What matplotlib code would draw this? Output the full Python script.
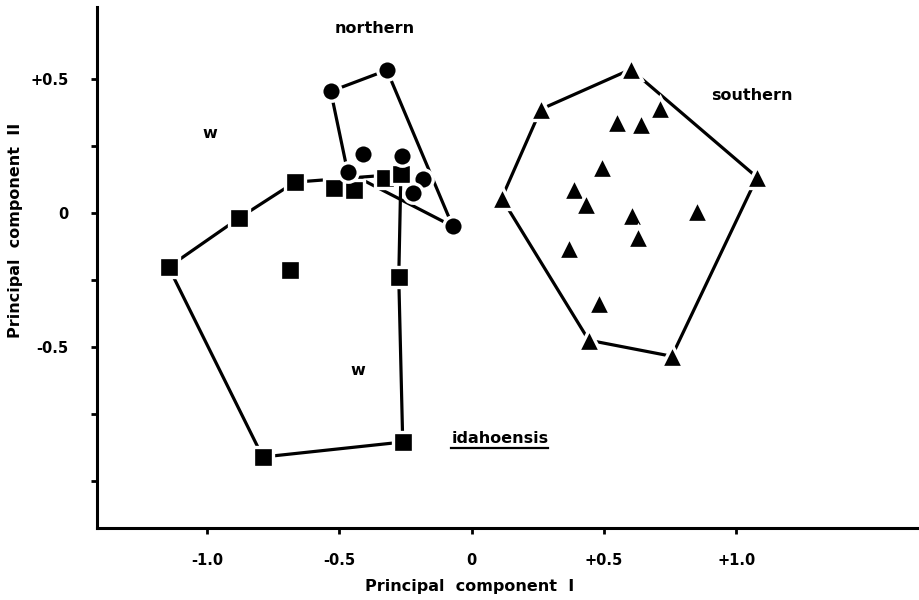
import matplotlib
matplotlib.use("Agg")
import matplotlib.pyplot as plt
from matplotlib.lines import Line2D

plt.rcParams['font.family'] = ['DejaVu Sans']
plt.rcParams['font.weight'] = 'bold'

# principal component scores (PC I, PC II) per population
idaho_x = [-1.146, -0.881, -0.669, -0.522, -0.446, -0.329, -0.268, -0.688, -0.276, -0.261, -0.790]
idaho_y = [-0.201, -0.019, 0.116, 0.093, 0.086, 0.131, 0.146, -0.213, -0.239, -0.854, -0.910]
idaho_hull = [0, 1, 2, 6, 8, 9, 10]

north_x = [-0.533, -0.321, -0.469, -0.412, -0.265, -0.185, -0.223, -0.072]
north_y = [0.455, 0.534, 0.153, 0.220, 0.213, 0.127, 0.075, -0.049]
north_hull = [0, 1, 7, 2]

south_x = [0.601, 0.261, 0.711, 0.548, 0.639, 0.491, 0.386, 0.431, 0.113,
           0.605, 0.851, 0.628, 0.367, 0.480, 0.442, 0.756, 1.078]
south_y = [0.537, 0.388, 0.392, 0.340, 0.332, 0.172, 0.090, 0.034, 0.056,
           -0.007, 0.007, -0.090, -0.131, -0.336, -0.474, -0.534, 0.134]
south_hull = [0, 16, 15, 14, 8, 1]

xticks = [-1.0, -0.5, 0, 0.5, 1.0]
xticklabels = ['-1.0', '-0.5', '0', '+0.5', '+1.0']
yticks = [0.5, 0.25, 0, -0.25, -0.5, -0.75, -1.0]
yticklabels = ['+0.5', '', '0', '', '-0.5', '', '']

fig = plt.figure(figsize=(9.2, 6), dpi=100)
ax = fig.add_axes([0.105, 0.12, 0.895, 0.868])


def closed(xs, ys, order):
    idx = order + [order[0]]
    return [xs[i] for i in idx], [ys[i] for i in idx]


groups = [
    (idaho_x, idaho_y, idaho_hull, 's', 14.8),
    (north_x, north_y, north_hull, 'o', 14.0),
    (south_x, south_y, south_hull, '^', 16.0),
]
for xs, ys, hull, mk, ms in groups:
    hx, hy = closed(xs, ys, hull)
    ax.plot(hx, hy, color='black', lw=2.3, zorder=1, solid_capstyle='round')
    ax.plot(xs, ys, ls='none', marker=mk, ms=ms, mfc='black',
            mec='white', mew=2.4, zorder=2)

ax.set_xlim(-1.418, 1.694)
ax.set_ylim(-1.175, 0.769)

ax.spines['top'].set_visible(False)
ax.spines['right'].set_visible(False)
for s in ['left', 'bottom']:
    ax.spines[s].set_linewidth(2.2)

ax.set_xticks(xticks)
ax.set_xticklabels(xticklabels)
ax.set_yticks(yticks)
ax.set_yticklabels(yticklabels)
ax.tick_params(direction='out', length=4, width=2, labelsize=10.5)
ax.tick_params(axis='x', pad=14)
ax.tick_params(axis='y', pad=16)

ax.set_xlabel('Principal  component  I', fontsize=11.5, fontweight='bold')
ax.set_ylabel('Principal  component  II', fontsize=11.5, fontweight='bold')
ax.xaxis.set_label_coords(0.453, -0.098)
ax.yaxis.set_label_coords(-0.089, 0.572)

txt = dict(fontsize=11.5, fontweight='bold', ha='center', va='center')
ax.text(-0.367, 0.690, 'northern', **txt)
ax.text(1.059, 0.440, 'southern', **txt)
ax.text(-0.991, 0.299, 'w', **txt)
ax.text(-0.431, -0.586, 'w', **txt)
ida = ax.text(0.106, -0.842, 'idahoensis', **txt)

# underline the taxon name
fig.canvas.draw()
bb = ida.get_window_extent()
inv = fig.transFigure.inverted()
(x0, y0), (x1, _) = inv.transform([(bb.x0, bb.y0 - 2), (bb.x1, bb.y0 - 2)])
fig.add_artist(Line2D([x0, x1], [y0, y0], color='black', lw=1.6))

fig.savefig('out.png', dpi=100)
